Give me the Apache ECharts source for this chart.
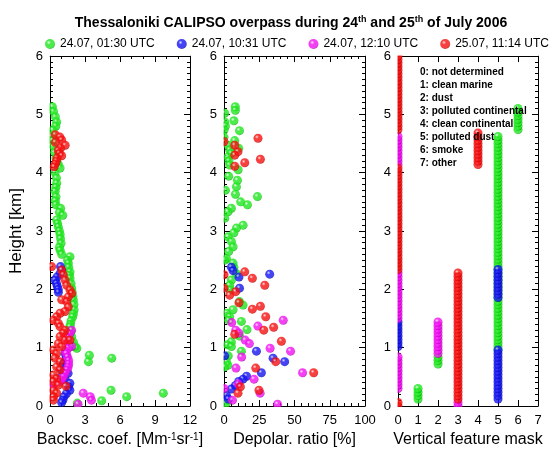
<!DOCTYPE html>
<html>
<head>
<meta charset="utf-8">
<script src="https://cdn.jsdelivr.net/npm/echarts@6/dist/echarts.min.js"></script>
<style>
  html, body { margin: 0; padding: 0; background: #fff; }
  #chart { width: 556px; height: 454px; }
</style>
</head>
<body>
<div id="chart"></div>
<script>
// legend names, one per overpass
const overpasses = ["24.07, 01:30 UTC", "24.07, 10:31 UTC", "24.07, 12:10 UTC", "25.07, 11:14 UTC"];

// backscatter coefficient [Mm-1 sr-1], pairs of [value, height km]
const bscGreen = [[0.2,5.13],[0.3,5.05],[0.45,4.96],[0.57,4.87],[0.5,4.8],[0.25,4.73],[0.14,4.62],[0.2,4.55],[0.3,4.45],[0.4,4.35],[0.5,4.25],[0.7,4.15],[0.86,4.08],[0.43,4.0],[0.55,3.91],[0.57,3.82],[0.5,3.75],[0.43,3.68],[0.51,3.59],[0.45,3.52],[0.5,3.45],[0.91,3.39],[0.8,3.32],[1.09,3.27],[0.57,3.19],[0.65,3.13],[0.71,3.07],[0.8,3.0],[0.86,2.94],[0.9,2.87],[0.94,2.79],[0.8,2.72],[0.86,2.67],[1.0,2.6],[1.71,2.56],[1.5,2.5],[1.57,2.45],[1.6,2.38],[1.71,2.3],[1.65,2.24],[1.71,2.19],[1.8,2.1],[1.86,2.02],[1.9,1.95],[1.95,1.88],[2.0,1.82],[2.05,1.74],[2.06,1.65],[2.0,1.58],[1.94,1.53],[1.8,1.46],[1.75,1.4],[1.71,1.36],[1.8,1.28],[1.86,1.19],[2.0,1.1],[2.14,1.02],[2.29,0.99],[3.37,0.87],[5.29,0.82],[3.29,0.76],[5.23,0.27],[9.71,0.22],[6.57,0.16],[4.43,0.09],[2.34,0.05]];
const bscBlue = [[0.9,2.39],[1.0,2.33],[0.85,2.27],[0.6,2.21],[0.43,2.16],[0.55,2.1],[0.63,2.05],[0.7,2.0],[0.72,1.95],[1.3,0.9],[1.4,0.85],[1.35,0.79],[1.15,0.73],[1.1,0.67],[1.0,0.62],[1.55,0.56],[1.0,0.5],[1.3,0.45],[1.7,0.39],[1.6,0.33],[1.7,0.27],[1.4,0.21],[1.2,0.16],[1.1,0.1],[1.0,0.06]];
const bscMagenta = [[1.85,1.3],[1.7,1.24],[1.5,1.18],[1.55,1.1],[1.85,1.02],[1.55,0.99],[1.3,0.95],[1.4,0.9],[1.5,0.84],[1.6,0.78],[1.6,0.72],[1.55,0.67],[1.45,0.62],[1.3,0.56],[1.15,0.5],[1.0,0.45],[0.85,0.42],[0.3,0.36],[2.85,0.22],[3.45,0.16],[3.55,0.1],[2.4,0.03]];
const bscRed = [[0.45,4.65],[0.85,4.61],[1.0,4.56],[0.45,4.52],[1.3,4.47],[0.9,4.42],[0.7,4.38],[0.8,4.33],[1.0,4.29],[0.6,4.25],[0.55,4.2],[0.45,4.15],[0.35,4.1],
  [0.14,2.39],[1.0,2.33],[1.14,2.25],[1.29,2.16],[1.43,2.07],[1.71,1.99],[1.86,1.93],[1.57,1.87],[1.0,1.82],[1.43,1.79],[1.57,1.7],[1.29,1.62],[0.86,1.59],[0.57,1.53],[0.29,1.47],[0.71,1.42],[0.86,1.36],[1.29,1.3],[1.14,1.25],[0.86,1.19],[1.29,1.13],[1.71,1.13],[0.71,1.07],[1.0,1.02],[0.29,0.96],[0.57,0.9],[0.43,0.82],[0.86,0.76],[0.57,0.67],[0.86,0.62],[0.29,0.53],[0.57,0.47],[0.29,0.42],[0.71,0.36],[1.37,0.34],[0.29,0.27],[0.57,0.22],[0.29,0.16],[0.29,0.1]];

// depolarization ratio [%], pairs of [value, height km]
const depGreen = [[8,5.13],[8,5.07],[0.5,5.02],[7,4.89],[0.5,4.87],[1,4.8],[0,4.73],[11,4.72],[0,4.61],[7.6,4.55],[3,4.47],[10.4,4.42],[4,4.39],[5,4.33],[2.8,4.27],[3.5,4.2],[4,4.13],[10,4.05],[3.3,3.94],[9.5,3.87],[8.8,3.76],[1,3.7],[8.1,3.63],[23.7,3.59],[11.8,3.5],[16.6,3.45],[5.2,3.39],[2.8,3.33],[0.5,3.22],[13.5,3.1],[8.8,3.05],[7,2.97],[2.8,2.9],[5.2,2.82],[6.4,2.73],[3.3,2.65],[1.7,2.53],[0.5,2.5],[6.4,2.45],[7,2.38],[8.8,2.27],[5.2,2.16],[4,2.07],[4.5,1.99],[11,1.79],[13.5,1.73],[6.4,1.65],[2,1.59],[4,1.53],[3.3,1.47],[12.3,1.45],[16.3,1.31],[11,1.2],[5.2,1.1],[2.4,1.05],[5.2,1.02],[12.3,0.94],[3,0.86],[1.7,0.76],[2.8,0.7],[0.5,0.67],[2.8,0.1],[1.7,0.05]];
const depBlue = [[5.2,2.38],[6.4,2.32],[32.4,2.26],[10.6,2.21],[11,2.02],[23,0.94],[0.5,0.86],[34.8,0.82],[43,0.76],[26.5,0.57],[16,0.51],[13.5,0.46],[10.4,0.42],[8,0.35],[5.2,0.29],[1.7,0.18],[3,0.12]];
const depMagenta = [[42,1.47],[5.5,1.43],[24,1.37],[8.3,1.3],[10.6,1.25],[15,1.13],[18,1.07],[32.7,0.99],[47.2,0.94],[12.5,0.84],[8.5,0.65],[55.7,0.57],[21.3,0.46],[10,0.38],[0,0.3],[25.6,0.22],[6,0.1],[38,0.03]];
const depRed = [[24.1,4.59],[0,4.53],[7.6,4.47],[9.9,4.36],[7.6,4.3],[25.8,4.23],[14.7,4.17],[7.6,4.11],[14.7,2.3],[20.1,2.19],[0,2.25],[28.9,2.07],[0,2.02],[8.3,1.96],[4,1.9],[10.6,1.77],[25.8,1.71],[20.1,1.66],[29.6,1.53],[35.2,1.35],[28.2,1.3],[7.6,1.23],[40.7,1.11],[36.7,0.76],[22.5,0.65],[63.6,0.57],[11.6,0.33],[24.8,0.27],[9.9,0.22]];

// CALIPSO altitude bins [km]
const binHeights = [0,0.06,0.12,0.18,0.24,0.3,0.36,0.42,0.48,0.54,0.6,0.66,0.72,0.78,0.84,0.9,0.96,1.02,1.08,1.14,1.2,1.26,1.32,1.38,1.44,1.5,1.56,1.62,1.68,1.74,1.8,1.86,1.92,1.98,2.04,2.1,2.16,2.22,2.28,2.34,2.4,2.46,2.52,2.58,2.64,2.7,2.76,2.82,2.88,2.94,3,3.06,3.12,3.18,3.24,3.3,3.36,3.42,3.48,3.54,3.6,3.66,3.72,3.78,3.84,3.9,3.96,4.02,4.08,4.14,4.2,4.26,4.32,4.38,4.44,4.5,4.56,4.62,4.68,4.74,4.8,4.86,4.92,4.98,5.04,5.1,5.16,5.22,5.28,5.34,5.4,5.46,5.52,5.58,5.64,5.7,5.76,5.82,5.88,5.94,6];

// vertical feature mask layers: [class, base km, top km]
const vfmGreen = [[1,0.12,0.30],[2,0.72,0.84],[5,0.96,4.62],[6,4.74,5.10]];
const vfmBlue = [[5,0.12,0.96],[0,1.02,1.44],[5,1.86,2.34]];
const vfmMagenta = [[3,0,0.06],[0,0.30,0.84],[2,0.90,1.44],[0,1.50,2.28],[0,4.14,4.62]];
const vfmRed = [[0,0,0.06],[3,0.12,2.28],[0,2.34,4.08],[4,4.14,4.68],[0,4.74,6]];

const maskClasses = ["0: not determined", "1: clean marine", "2: dust", "3: polluted continental",
  "4: clean continental", "5: polluted dust", "6: smoke", "7: other"];

const sphereColors = [
  ["#eaffea", "#1ee61e", "#009000"],
  ["#d0d0ff", "#1515f0", "#000080"],
  ["#ffe0ff", "#f010f0", "#900090"],
  ["#ffd8d8", "#f51010", "#980000"],
];

function sphere(c) {
  return {
    type: "radial", x: 0.38, y: 0.35, r: 0.7,
    colorStops: [
      { offset: 0, color: c[0] },
      { offset: 0.3, color: c[1] },
      { offset: 0.8, color: c[1] },
      { offset: 1, color: c[2] },
    ],
  };
}

function maskPoints(layers) {
  const pts = [];
  binHeights.forEach((h) => {
    const layer = layers.find((l) => h >= l[1] - 1e-6 && h <= l[2] + 1e-6);
    if (layer) pts.push([layer[0], h]);
  });
  return pts;
}

const FONT = "Liberation Sans";
const bscSets = [bscGreen, bscBlue, bscMagenta, bscRed];
const depSets = [depGreen, depBlue, depMagenta, depRed];
const vfmSets = [vfmGreen, vfmBlue, vfmMagenta, vfmRed];

const grids = [
  { left: 50, top: 56, width: 140, height: 350 },
  { left: 224, top: 56, width: 141, height: 350 },
  { left: 398, top: 56, width: 140, height: 350 },
];

const xSpecs = [
  { max: 12, interval: 3, minor: 3, name: "{n|Backsc. coef. [Mm}{s|-1}{n|sr}{s|-1}{n|]}" },
  { max: 100, interval: 25, minor: 5, name: "Depolar. ratio [%]" },
  { max: 7, interval: 1, minor: 1, name: "Vertical feature mask" },
];

const axisText = { color: "#000", fontFamily: FONT, fontSize: 13 };
const xAxis = [];
const yAxis = [];
xSpecs.forEach((s, i) => {
  const common = {
    gridIndex: i, type: "value", min: 0, max: s.max, interval: s.interval,
    splitLine: { show: false },
    axisLine: { show: true, onZero: false, lineStyle: { color: "#000", width: 1 } },
    axisTick: { show: true, inside: true, length: 6, lineStyle: { color: "#000" } },
    minorTick: { show: s.minor > 1, splitNumber: s.minor, length: 3, lineStyle: { color: "#000" } },
  };
  xAxis.push(Object.assign({}, common, {
    position: "bottom",
    axisLabel: Object.assign({ margin: 8 }, axisText),
    name: s.name, nameLocation: "middle", nameGap: 26,
    nameTextStyle: {
      color: "#000", fontFamily: FONT, fontSize: 16,
      rich: { n: { fontFamily: FONT, fontSize: 16, color: "#000" }, s: { fontFamily: FONT, fontSize: 10, color: "#000", verticalAlign: "top", lineHeight: 12 } },
    },
  }));
  xAxis.push(Object.assign({}, common, { position: "top", axisLabel: { show: false } }));

  const yCommon = {
    gridIndex: i, type: "value", min: 0, max: 6, interval: 1,
    splitLine: { show: false },
    axisLine: { show: true, onZero: false, lineStyle: { color: "#000", width: 1 } },
    axisTick: { show: true, inside: true, length: 6, lineStyle: { color: "#000" } },
    minorTick: { show: true, splitNumber: 10, length: 3, lineStyle: { color: "#000" } },
  };
  yAxis.push(Object.assign({}, yCommon, {
    position: "left",
    axisLabel: Object.assign({ margin: 7 }, axisText),
    name: i === 0 ? "Height [km]" : "", nameLocation: "middle", nameGap: 25, nameRotate: 90,
    nameTextStyle: { color: "#000", fontFamily: FONT, fontSize: 17 },
  }));
  yAxis.push(Object.assign({}, yCommon, { position: "right", axisLabel: { show: false } }));
});

const series = [];
overpasses.forEach((name, k) => {
  const style = { color: sphere(sphereColors[k]) };
  series.push({ name, type: "scatter", xAxisIndex: 0, yAxisIndex: 0, symbolSize: 9, itemStyle: style, data: bscSets[k] });
  series.push({ name, type: "scatter", xAxisIndex: 2, yAxisIndex: 2, symbolSize: 9, itemStyle: style, data: depSets[k] });
  series.push({ name, type: "scatter", xAxisIndex: 4, yAxisIndex: 4, symbolSize: 9, itemStyle: style, data: maskPoints(vfmSets[k]) });
});

// white strips just outside each plot frame so that marks are cut at the frame
const masks = [];
grids.forEach((g) => {
  const W = "#fff";
  masks.push({ type: "rect", z: 50, silent: true, shape: { x: g.left - 6, y: g.top - 6, width: 5.5, height: g.height + 12 }, style: { fill: W } });
  masks.push({ type: "rect", z: 50, silent: true, shape: { x: g.left - 6, y: g.top + g.height + 1, width: g.width + 12, height: 5.5 }, style: { fill: W } });
  masks.push({ type: "rect", z: 50, silent: true, shape: { x: g.left - 6, y: g.top - 6, width: g.width + 12, height: 5.5 }, style: { fill: W } });
  masks.push({ type: "rect", z: 50, silent: true, shape: { x: g.left + g.width + 1, y: g.top - 6, width: 5.5, height: g.height + 12 }, style: { fill: W } });
});

const chart = echarts.init(document.getElementById("chart"), null, { renderer: "canvas" });
chart.setOption({
  animation: false,
  backgroundColor: "#fff",
  title: {
    text: "{t|Thessaloniki CALIPSO overpass during 24}{s|th}{t| and 25}{s|th}{t| of July 2006}",
    left: 286, top: 10, textAlign: "center",
    textStyle: {
      rich: {
        t: { fontFamily: FONT, fontSize: 14, fontWeight: "bold", color: "#000", lineHeight: 17 },
        s: { fontFamily: FONT, fontSize: 9, fontWeight: "bold", color: "#000", verticalAlign: "top", lineHeight: 10 },
      },
    },
  },
  legend: {
    data: overpasses, top: 33, left: 40, width: 520, itemGap: 22,
    icon: "circle", itemWidth: 10, itemHeight: 10,
    textStyle: { fontFamily: FONT, fontSize: 12, color: "#000" },
  },
  grid: grids,
  xAxis, yAxis, series,
  graphic: masks.concat(maskClasses.map((t, i) => ({
    type: "text", left: 420, top: 67 + i * 13, z: 100,
    style: { text: t, fontFamily: FONT, fontSize: 10, fontWeight: "bold", fill: "#000" },
  }))),
});
</script>
</body>
</html>
